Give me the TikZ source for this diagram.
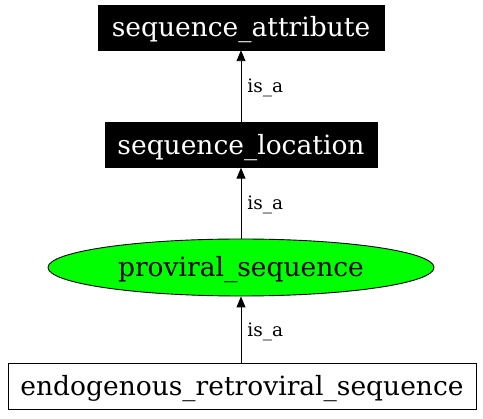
\documentclass[tikz,border=0pt]{standalone}
\usepackage{fontspec}
\setmainfont{DejaVu Serif}
\usetikzlibrary{shapes.geometric,arrows.meta}
\begin{document}
\begin{tikzpicture}[x=1pt,y=-1pt,
  nodefont/.style={font=\fontsize{26.5}{30}\selectfont,text height=24pt,text depth=5pt},
  blackbox/.style={rectangle,fill=black,draw=black,text=white,nodefont,inner sep=0pt},
  whitebox/.style={rectangle,fill=white,draw=black,nodefont,inner sep=0pt},
  greenell/.style={ellipse,fill=green,draw=black,nodefont,inner sep=0pt},
  isa/.style={-{Triangle[length=11pt,width=9pt]},black,line width=0.9pt},
  lbl/.style={font=\fontsize{18.5}{21}\selectfont,anchor=west,inner sep=0pt}]
\useasboundingbox (0,0) rectangle (483,419);
\node[blackbox,minimum width=286,minimum height=45] (attr) at (241,27.5) {sequence\_attribute};
\node[blackbox,minimum width=272,minimum height=45] (loc) at (241,145) {sequence\_location};
\node[greenell,minimum width=386,minimum height=57,line width=0.9pt] (prov) at (241,267.5) {proviral\_sequence};
\node[whitebox,minimum width=468,minimum height=46,line width=0.9pt] (endo) at (242,386) {endogenous\_retroviral\_sequence};
\draw[isa] (loc.north) -- (attr.south) node[midway,lbl,xshift=6pt,yshift=-2pt] {is\_a};
\draw[isa] (prov.north) -- (loc.south) node[midway,lbl,xshift=6pt,yshift=-2pt] {is\_a};
\draw[isa] (endo.north -| prov.south) -- (prov.south) node[midway,lbl,xshift=6pt,yshift=-2pt] {is\_a};
\end{tikzpicture}
\end{document}
